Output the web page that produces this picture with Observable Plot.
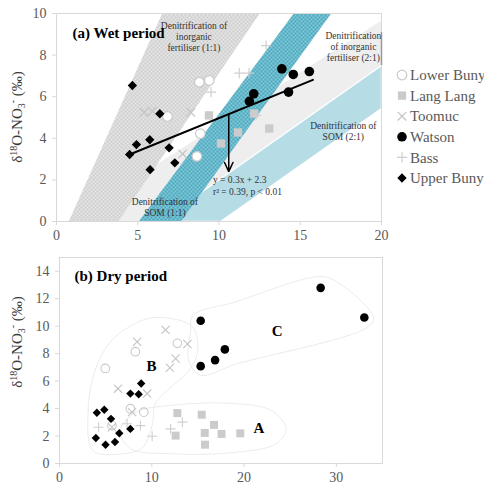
<!DOCTYPE html>
<html><head><meta charset="utf-8">
<script src="https://cdn.jsdelivr.net/npm/d3@7"></script>
<script src="https://cdn.jsdelivr.net/npm/@observablehq/plot@0.6"></script>
<style>
body{margin:0;background:#fff;width:484px;height:489px;overflow:hidden;font-family:"Liberation Serif",serif;}
#wrap{position:relative;width:484px;}
svg{display:block;}
</style></head><body><div id="wrap"></div>
<script>
// ---------- Panel (a) Wet period ----------
const wetUpperBunyipX = [4.67, 4.5, 4.92, 5.74, 6.36, 5.76, 6.93, 7.28];
const wetUpperBunyipY = [6.54, 3.22, 3.70, 3.93, 5.18, 2.49, 3.54, 2.82];
const wetWatsonX = [13.87, 14.57, 15.56, 14.28, 12.14, 11.87];
const wetWatsonY = [7.34, 7.07, 7.21, 6.22, 6.14, 5.78];
const wetLangLangX = [9.38, 10.12, 11.17, 12.16, 13.09];
const wetLangLangY = [5.10, 3.75, 4.28, 5.19, 4.47];
const wetLowerBunyipX = [8.79, 9.40, 6.83, 8.85, 8.64];
const wetLowerBunyipY = [6.70, 6.78, 5.05, 4.22, 3.13];
const wetToomucX = [5.39, 5.9, 8.27, 7.76];
const wetToomucY = [5.25, 5.3, 5.25, 3.25];
const wetBassX = [11.25, 12.9, 9.51, 11.85, 12.28];
const wetBassY = [7.13, 8.46, 6.22, 7.13, 5.1];

const regLineX = [4.5, 15.78];
const regLineY = [3.22, 6.81];
const arrowX = [10.6];
const arrowFromY = [5.16];
const arrowToY = [2.4];

// bands (polygon vertices in data units)
const bandFert21X = [0.68, 20, 20, 6.36];
const bandFert21Y = [0, 9.66, 7.5, 0];
const bandSom21X = [6.36, 20, 20, 10.1];
const bandSom21Y = [0, 7.5, 5.43, 0];
const bandFert11X = [0.75, 3.8, 12.5, 6.5];
const bandFert11Y = [0, 0, 10, 10];
const bandSom11X = [5.06, 7.65, 16.9, 14.6];
const bandSom11Y = [0, 0, 10, 10];

const annText = ["Denitrification of\ninorganic\nfertiliser (1:1)", "Denitrification\nof inorganic\nfertiliser (2:1)", "Denitrification of\nSOM (2:1)", "Denitrification of\nSOM (1:1)"];
const annX = [8.46, 18.27, 17.65, 6.67];
const annY = [8.89, 8.41, 4.35, 0.72];
const eqText = ["y = 0.3x + 2.3\nr² = 0.39, p < 0.01"];
const eqX = [9.63];
const eqY = [1.73];
const boxBarX = [20];
const boxBarY1 = [9.09];
const boxBarY2 = [7.5];

const wetXTicks = [0, 5, 10, 15, 20];
const wetYTicks = [0, 2, 4, 6, 8, 10];

// ---------- Panel (b) Dry period ----------
const dryUpperBunyipX = [4.05, 4.85, 5.58, 3.94, 4.99, 6.01, 6.48, 7.68, 7.68, 8.58, 8.85];
const dryUpperBunyipY = [3.70, 3.91, 3.25, 1.86, 1.37, 1.57, 2.20, 2.52, 5.09, 5.04, 5.82];
const dryWatsonX = [15.3, 15.3, 16.86, 17.92, 28.3, 33.03];
const dryWatsonY = [10.39, 7.09, 7.53, 8.31, 12.79, 10.63];
const dryLangLangX = [12.77, 12.58, 15.41, 15.74, 15.77, 16.75, 17.56, 19.59];
const dryLangLangY = [3.67, 2.03, 3.55, 2.23, 1.37, 2.81, 2.15, 2.20];
const dryLowerBunyipX = [4.96, 8.22, 12.77, 7.68, 9.13, 5.69];
const dryLowerBunyipY = [6.92, 8.14, 8.75, 3.99, 3.74, 2.76];
const dryToomucX = [11.49, 8.41, 13.86, 12.58, 11.96, 6.34, 9.5, 7.86, 5.69];
const dryToomucY = [9.73, 8.87, 8.70, 7.65, 6.97, 5.45, 5.09, 3.74, 2.64];
const dryBassX = [10.04, 13.31, 8.77, 7.32, 12.04, 4.23];
const dryBassY = [1.98, 3.01, 2.76, 2.89, 2.52, 2.64];

const hullAX = [6.59, 8.22, 12.04, 18.57, 22.93, 24.56, 23.48, 18.57, 12.04, 7.68];
const hullAY = [2.40, 3.72, 4.23, 4.38, 3.86, 2.54, 1.44, 0.78, 0.71, 1.08];
const hullBX = [3.65, 3.10, 3.87, 5.72, 9.10, 11.49, 14.43, 14.98, 14.22, 10.40, 10.08, 8.99, 6.81];
const hullBY = [0.93, 3.86, 6.80, 9.00, 10.46, 10.61, 9.95, 8.26, 6.94, 4.38, 2.91, 1.15, 0.71];
const hullCX = [14.43, 19.12, 28.16, 30.01, 34.04, 33.28, 19.12, 15.31, 14.0, 14.22];
const hullCY = [10.76, 11.78, 13.61, 13.25, 10.61, 9.88, 7.24, 6.43, 7.53, 9.73];
const groupLabels = ["A", "B", "C"];
const groupX = [21.6, 9.97, 23.58];
const groupY = [2.54, 7.09, 9.66];

const dryXTicks = [0, 10, 20, 30];
const dryYTicks = [0, 2, 4, 6, 8, 10, 12, 14];

const legendLabels = ["Lower Bunyip", "Lang Lang", "Toomuc", "Watson", "Bass", "Upper Bunyip"];

// ---------- helpers ----------
const FONT = '"Liberation Serif", "Times New Roman", serif';
const pts = (xs, ys) => xs.map((x, i) => ({x, y: ys[i]}));
const C = {
  square: "#cbcbcb", open: "#c9c9c9", times: "#c4c4c4", plus: "#cfcfcf",
  tick: "#595959", frame: "#d9d9d9", hull: "#e9e9e9"
};

function yLabel(svg, cy) {
  const t = d3.select(svg).append("text")
    .attr("transform", `translate(22,${cy}) rotate(-90)`)
    .attr("text-anchor", "middle")
    .attr("font-family", FONT).attr("font-size", 15).attr("fill", "#3a3a3a");
  t.append("tspan").text("δ");
  t.append("tspan").attr("dy", -5).attr("font-size", 10).text("18");
  t.append("tspan").attr("dy", 5).text("O-NO");
  t.append("tspan").attr("dy", 3).attr("font-size", 10).text("3");
  t.append("tspan").attr("dy", -9).attr("font-size", 10).text("-");
  t.append("tspan").attr("dy", 6).text(" (‰)");
}

function addPatterns(svg) {
  const defs = d3.select(svg).insert("defs", ":first-child");
  const mk = (id, bg, dot) => {
    const p = defs.append("pattern").attr("id", id).attr("width", 4).attr("height", 4)
      .attr("patternUnits", "userSpaceOnUse");
    p.append("rect").attr("width", 4).attr("height", 4).attr("fill", bg);
    p.append("circle").attr("cx", 1).attr("cy", 1).attr("r", 0.95).attr("fill", dot);
    p.append("circle").attr("cx", 3).attr("cy", 3).attr("r", 0.95).attr("fill", dot);
  };
  mk("patGray", "#cdcdcd", "#f2f2f2");
  mk("patTeal", "#45a6bd", "#a9d9e4");
}

const txt = {fontFamily: FONT};

// ---------- Panel (a) ----------
const plotA = Plot.plot({
  width: 484, height: 245,
  marginLeft: 56, marginRight: 103, marginTop: 13, marginBottom: 24,
  style: {fontFamily: FONT, fontSize: "14px", background: "white"},
  x: {domain: [0, 20]},
  y: {domain: [0, 10]},
  marks: [
    Plot.line(pts(bandFert21X, bandFert21Y), {x: "x", y: "y", curve: "linear-closed", fill: "#eeeeee", stroke: "none"}),
    Plot.line(pts(bandSom21X, bandSom21Y), {x: "x", y: "y", curve: "linear-closed", fill: "#b6dce6", stroke: "white", strokeWidth: 1.5}),
    Plot.line(pts(bandFert11X, bandFert11Y), {x: "x", y: "y", curve: "linear-closed", fill: "url(#patGray)", stroke: "none"}),
    Plot.line(pts(bandSom11X, bandSom11Y), {x: "x", y: "y", curve: "linear-closed", fill: "url(#patTeal)", stroke: "none"}),
    Plot.frame({stroke: C.frame}),
    Plot.ruleX(boxBarX.map((x, i) => ({x, y1: boxBarY1[i], y2: boxBarY2[i]})), {x: "x", y1: "y1", y2: "y2", stroke: "#9a9a9a", strokeWidth: 1.5}),
    Plot.axisX({ticks: wetXTicks, tickSize: 4, tickPadding: 5, stroke: C.frame, fill: C.tick, fontSize: 14, label: null, ...txt}),
    Plot.axisY({ticks: wetYTicks, tickSize: 4, tickPadding: 6, stroke: C.frame, fill: C.tick, fontSize: 14, label: null, ...txt}),
    Plot.text(annText.map((t, i) => ({t, x: annX[i], y: annY[i]})), {x: "x", y: "y", text: "t", fontSize: 9.5, lineHeight: 1.18, fill: "#333", textAnchor: "middle", ...txt}),
    Plot.text(eqText.map((t, i) => ({t, x: eqX[i], y: eqY[i]})), {x: "x", y: "y", text: "t", fontSize: 9.5, lineHeight: 1.25, fill: "#333", textAnchor: "start", ...txt}),
    Plot.dot(pts(wetLangLangX, wetLangLangY), {x: "x", y: "y", symbol: "square", fill: C.square, r: 4.7}),
    Plot.dot(pts(wetToomucX, wetToomucY), {x: "x", y: "y", symbol: "times", stroke: C.times, r: 4, strokeWidth: 1.2}),
    Plot.dot(pts(wetBassX, wetBassY), {x: "x", y: "y", symbol: "plus", stroke: C.plus, r: 3.4, strokeWidth: 1.2}),
    Plot.dot(pts(wetLowerBunyipX, wetLowerBunyipY), {x: "x", y: "y", symbol: "circle", fill: "white", stroke: C.open, r: 4.8, strokeWidth: 1.2}),
    Plot.line(pts(regLineX, regLineY), {x: "x", y: "y", stroke: "black", strokeWidth: 2}),
    Plot.arrow(arrowX.map((x, i) => ({x, y1: arrowFromY[i], y2: arrowToY[i]})), {x1: "x", x2: "x", y1: "y1", y2: "y2", stroke: "black", strokeWidth: 1.5, headLength: 10, headAngle: 50}),
    Plot.dot(pts(wetWatsonX, wetWatsonY), {x: "x", y: "y", symbol: "circle", fill: "black", r: 4.8}),
    Plot.dot(pts(wetUpperBunyipX, wetUpperBunyipY), {x: "x", y: "y", symbol: "diamond2", fill: "black", stroke: "none", r: 4.2}),
    Plot.text(["(a) Wet period"], {frameAnchor: "top-left", text: d => d, dx: 16, dy: 20, lineAnchor: "middle", textAnchor: "start", fontWeight: "bold", fontSize: 15, fill: "black", ...txt})
  ]
});
addPatterns(plotA);
yLabel(plotA, 117);

// legend (drawn in the SVG's right margin)
{
  const g = d3.select(plotA).append("g").attr("transform", "translate(402,75)");
  const specs = [
    {type: d3.symbolCircle, r: 4.8, fill: "white", stroke: C.open},
    {type: d3.symbolSquare, r: 4.7, fill: C.square, stroke: "none"},
    {type: d3.symbolTimes, r: 4, fill: "none", stroke: C.times},
    {type: d3.symbolCircle, r: 4.8, fill: "black", stroke: "none"},
    {type: d3.symbolPlus, r: 3.4, fill: "none", stroke: C.plus},
    {type: d3.symbolDiamond2, r: 4.2, fill: "black", stroke: "none"}
  ];
  legendLabels.forEach((lab, i) => {
    const s = specs[i];
    const row = g.append("g").attr("transform", `translate(0,${i * 20.6})`);
    row.append("path").attr("d", d3.symbol(s.type, Math.PI * s.r * s.r)())
      .attr("fill", s.fill).attr("stroke", s.stroke).attr("stroke-width", 1.2);
    row.append("text").attr("x", 8).attr("dy", "0.35em").attr("font-family", FONT)
      .attr("text-anchor", "start")
      .attr("font-size", 15).attr("fill", "#595959").text(lab);
  });
}

// ---------- Panel (b) ----------
const plotB = Plot.plot({
  width: 484, height: 244,
  marginLeft: 59, marginRight: 102, marginTop: 12, marginBottom: 26,
  style: {fontFamily: FONT, fontSize: "14px", background: "white"},
  x: {domain: [0, 35]},
  y: {domain: [0, 15]},
  marks: [
    Plot.frame({stroke: C.frame}),
    Plot.axisX({ticks: dryXTicks, tickSize: 4, tickPadding: 5, stroke: C.frame, fill: C.tick, fontSize: 14, label: null, ...txt}),
    Plot.axisY({ticks: dryYTicks, tickSize: 4, tickPadding: 6, stroke: C.frame, fill: C.tick, fontSize: 14, label: null, ...txt}),
    Plot.line(pts(hullAX, hullAY), {x: "x", y: "y", curve: "catmull-rom-closed", stroke: C.hull, strokeWidth: 0.9}),
    Plot.line(pts(hullBX, hullBY), {x: "x", y: "y", curve: "catmull-rom-closed", stroke: C.hull, strokeWidth: 0.9}),
    Plot.line(pts(hullCX, hullCY), {x: "x", y: "y", curve: "catmull-rom-closed", stroke: C.hull, strokeWidth: 0.9}),
    Plot.dot(pts(dryLangLangX, dryLangLangY), {x: "x", y: "y", symbol: "square", fill: C.square, r: 4.5}),
    Plot.dot(pts(dryToomucX, dryToomucY), {x: "x", y: "y", symbol: "times", stroke: C.times, r: 3.8, strokeWidth: 1.1}),
    Plot.dot(pts(dryBassX, dryBassY), {x: "x", y: "y", symbol: "plus", stroke: C.plus, r: 3.3, strokeWidth: 1.1}),
    Plot.dot(pts(dryLowerBunyipX, dryLowerBunyipY), {x: "x", y: "y", symbol: "circle", fill: "white", fillOpacity: 0, stroke: C.open, r: 4.3, strokeWidth: 1.1}),
    Plot.dot(pts(dryUpperBunyipX, dryUpperBunyipY), {x: "x", y: "y", symbol: "diamond2", fill: "black", stroke: "none", r: 3.8}),
    Plot.dot(pts(dryWatsonX, dryWatsonY), {x: "x", y: "y", symbol: "circle", fill: "black", r: 4.3}),
    Plot.text(groupLabels.map((t, i) => ({t, x: groupX[i], y: groupY[i]})), {x: "x", y: "y", text: "t", fontSize: 15, fontWeight: "bold", fill: "black", ...txt}),
    Plot.text(["(b) Dry period"], {frameAnchor: "top-left", text: d => d, dx: 15, dy: 19, lineAnchor: "middle", textAnchor: "start", fontWeight: "bold", fontSize: 15, fill: "black", ...txt})
  ]
});
yLabel(plotB, 97);

const wrap = document.getElementById("wrap");
wrap.appendChild(plotA);
wrap.appendChild(plotB);
</script></body></html>
